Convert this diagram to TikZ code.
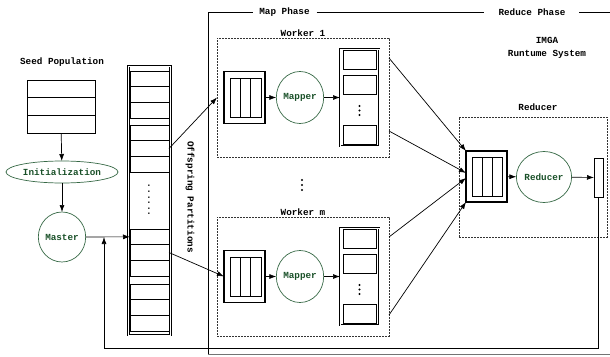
\documentclass[tikz,border=0pt]{standalone}
\usepackage{fontspec}
\setmonofont{Liberation Mono}
\usetikzlibrary{arrows.meta, positioning, shapes.geometric}
\definecolor{textgreen}{RGB}{25,80,40}
\definecolor{edgegreen}{RGB}{55,105,70}

\begin{document}
\begin{tikzpicture}[
x=1pt, y=-1pt,
line width=0.7pt,
font=\ttfamily\bfseries\fontsize{9.3}{11}\selectfont,
every node/.style={inner sep=0pt, outer sep=0pt},
cell/.style={draw, rectangle, minimum width=39pt, minimum height=15.67pt},
slot/.style={draw, rectangle, minimum width=33pt, minimum height=19pt},
lane/.style={draw, rectangle, minimum width=10.3pt, minimum height=39pt},
column/.style={draw, rectangle, double=white, double distance=1pt},
queue/.style={draw, rectangle, line width=1.5pt, minimum width=41pt, minimum height=52pt},
worker/.style={draw=black!80, dashed, dash pattern=on 2pt off 1pt, rectangle},
proc/.style={draw=edgegreen, ellipse, text=textgreen},
dot/.style={circle, fill, minimum size=2.2pt},
arrow/.style={-{Latex[length=7pt, width=5pt]}}
]
\useasboundingbox (0,0) rectangle (610,356);

% seed population and master
\node (seedlbl) at (62,62) {Seed Population};
\foreach \k in {1,2,3}
  \node[draw, minimum width=68pt, minimum height=17.7pt] (s\k) at (61,{71.2+17.7*\k}) {};
\node[proc, minimum width=112pt, minimum height=22pt] (init) at (62,172) {Initialization};
\node[proc, minimum width=47pt, minimum height=50pt] (master) at (62,237) {Master};
\draw[arrow] (s3) -- (init);
\draw[arrow] (init) -- (master);

% offspring partitions
\node[column, minimum width=42pt, minimum height=269pt] (pcol) at (149.5,200.5) {};
\foreach \g/\t in {0/71,1/125,2/229,3/284}
  \foreach \k in {1,2,3} {
    \pgfmathtruncatemacro\n{3*\g+\k}
    \node[cell] (p\n) at (149.5,{\t+15.67*(\k-0.5)}) {};
  }
\node[rotate=90] (pdots) at (149,200) {......};
\node[rotate=-90] (plbl) at (190,197) {Offspring Partitions};
\draw[arrow] (master) -- (p7.west);

% phase frame
\node (mapl) at (284.5,12) {Map Phase};
\node (redl) at (532,12) {Reduce Phase};
\coordinate (fl) at (208,354);
\draw (fl) |- ([xshift=-6pt]mapl.west);
\draw ([xshift=7pt]mapl.east) -- ([xshift=-15pt]redl.west);
\draw ([xshift=14pt]redl.east) -- (610,12);
\draw[black!55] (fl) -- (610,354);

% workers
\foreach \w/\cy/\wname in {1/97.5/1, 2/276.5/m} {
  \node[worker, minimum width=172pt, minimum height=119pt] (w\w) at (303,\cy) {};
  \node[above=1.5pt of w\w] (w\w lbl) {Worker \wname};
  \node[queue] (q\w) at (244.5,\cy) {};
  \foreach \i in {-1,0,1}
    \node[lane] at (245.5+10.3*\i,\cy) {};
  \node[proc, minimum width=46pt, minimum height=52pt] (m\w) at (300,\cy) {Mapper};
  \node[column, minimum width=39pt, minimum height=97pt] (o\w) at (359.5,\cy) {};
  \node[slot] at (359.5,\cy-38) {};
  \node[slot] at (359.5,\cy-12.5) {};
  \foreach \d in {-4.5,0,4.5}
    \node[dot] at (359.5,\cy+13+\d) {};
  \node[slot] at (359.5,\cy+37.5) {};
  \draw[arrow] (q\w) -- (m\w);
  \draw[arrow] (m\w) -- (o\w);
}
\foreach \d in {-5,0,5}
  \node[dot] at (302,185+\d) {};
\draw[arrow] (p5.east) -- (w1.west);
\draw[arrow] (p8.east) -- (q2.west);

% reducer
\node[align=center] (imga) at (547,48) {IMGA\\[2pt]Runtume System};
\node[worker, minimum width=148pt, minimum height=120pt] (rd) at (533,177) {};
\node (rdlbl) at (538,107) {Reducer};
\node[queue, minimum height=51pt] (rq) at (486.5,176.5) {};
\foreach \i in {-1,0,1}
  \node[lane] at (487+10*\i,177) {};
\node[proc, minimum width=52pt, minimum height=51pt] (rc) at (544,177) {Reducer};
\node[draw, minimum width=9pt, minimum height=39pt] (ro) at (598.5,177.5) {};
\draw[arrow] (rq) -- (rc);
\draw[arrow] (rc) -- (ro);

\draw[arrow] ([yshift=39.5pt]w1.east) -- (rq.north west);
\draw[arrow] ([yshift=-33.5pt]w1.east) -- ([yshift=3.5pt]rq.west);
\draw[arrow] ([yshift=39.5pt]w2.east) -- ([yshift=-1.5pt]rq.west);
\draw[arrow] ([yshift=-38.5pt]w2.east) -- (rq.south west);

% feedback to master
\coordinate (fb) at (104,348);
\draw[arrow] (ro.south) |- (fb) -- (fb |- master.east);
\end{tikzpicture}
\end{document}
